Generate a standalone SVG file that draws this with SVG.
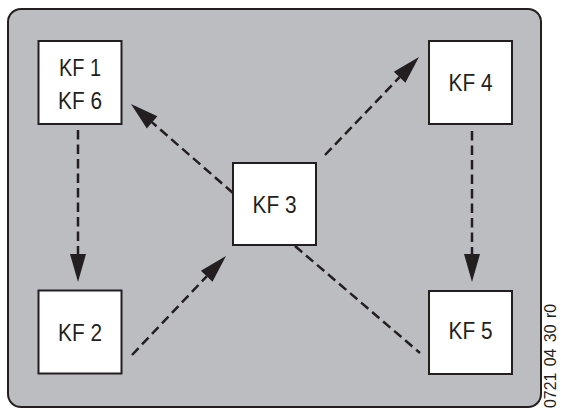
<svg xmlns="http://www.w3.org/2000/svg" width="561" height="410" viewBox="0 0 561 410">
<style>
.bg{fill:#bcbdc0;stroke:#231f20;stroke-width:2}
.box{fill:#ffffff;stroke:#231f20;stroke-width:2}
.lbl{font-family:"Liberation Sans",Arial,sans-serif;font-size:23px;fill:#231f20;text-anchor:middle}
.conn{fill:none;stroke:#231f20;stroke-width:2.5;stroke-dasharray:9.5 5}
.code{font-family:"Liberation Sans",Arial,sans-serif;font-size:16px;fill:#231f20;text-anchor:end;word-spacing:2px}
</style>
<defs>
<marker id="ah" markerUnits="userSpaceOnUse" markerWidth="30" markerHeight="18" refX="0" refY="8" orient="auto" overflow="visible">
<path d="M0,0 L28,8 L0,16 z" fill="#231f20"/>
</marker>
</defs>
<rect class="bg" x="8" y="9" width="533" height="398" rx="13" ry="13"/>
<g id="connectors">
<line class="conn" x1="78" y1="130" x2="78" y2="254" marker-end="url(#ah)"/>
<line class="conn" x1="472" y1="131" x2="472" y2="254" marker-end="url(#ah)"/>
<line class="conn" x1="233" y1="193" x2="152.1" y2="122.4" marker-end="url(#ah)"/>
<line class="conn" x1="325" y1="155" x2="399.6" y2="77.2" marker-end="url(#ah)"/>
<line class="conn" x1="132" y1="355" x2="206.7" y2="276.3" marker-end="url(#ah)"/>
<line class="conn" x1="295" y1="246" x2="420" y2="353"/>
</g>
<g id="kf1">
<rect class="box" x="38.5" y="41" width="83" height="83"/>
<text class="lbl" x="80" y="76" textLength="42" lengthAdjust="spacingAndGlyphs">KF 1</text>
<text class="lbl" x="80" y="108.5" textLength="44" lengthAdjust="spacingAndGlyphs">KF 6</text>
</g>
<g id="kf4">
<rect class="box" x="429" y="41" width="83" height="83"/>
<text class="lbl" x="470.5" y="91" textLength="44" lengthAdjust="spacingAndGlyphs">KF 4</text>
</g>
<g id="kf3">
<rect class="box" x="233" y="163" width="83" height="82"/>
<text class="lbl" x="274.5" y="212.5" textLength="44" lengthAdjust="spacingAndGlyphs">KF 3</text>
</g>
<g id="kf2">
<rect class="box" x="38.5" y="290.5" width="83" height="83"/>
<text class="lbl" x="80" y="340.5" textLength="44" lengthAdjust="spacingAndGlyphs">KF 2</text>
</g>
<g id="kf5">
<rect class="box" x="429" y="291" width="83" height="83"/>
<text class="lbl" x="470.5" y="339" textLength="44" lengthAdjust="spacingAndGlyphs">KF 5</text>
</g>
<text class="code" transform="translate(556,304) rotate(-90)" textLength="104" lengthAdjust="spacingAndGlyphs">0721 04 30 r0</text>
</svg>
